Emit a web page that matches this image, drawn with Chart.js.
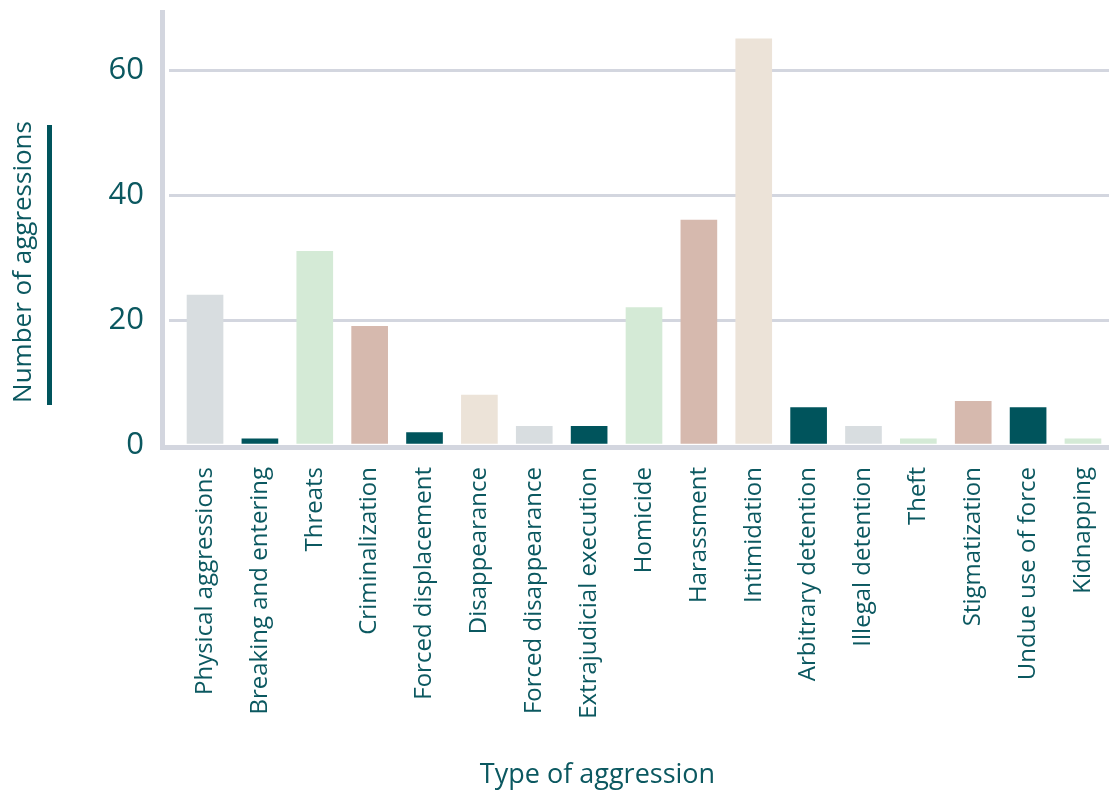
<!DOCTYPE html>
<html>
<head>
<meta charset="utf-8">
<title>Type of aggression</title>
<script src="https://cdn.jsdelivr.net/npm/chart.js@4.4.1/dist/chart.umd.min.js"></script>
<style>
  html, body { margin: 0; padding: 0; background: #ffffff; overflow: hidden; }
  canvas { display: block; }
</style>
</head>
<body>
<canvas id="chart" width="1112" height="797"></canvas>
<script>
// Aggressions recorded, by type
const categories = [
  'Physical aggressions', 'Breaking and entering', 'Threats', 'Criminalization',
  'Forced displacement', 'Disappearance', 'Forced disappearance', 'Extrajudicial execution',
  'Homicide', 'Harassment', 'Intimidation', 'Arbitrary detention', 'Illegal detention',
  'Theft', 'Stigmatization', 'Undue use of force', 'Kidnapping'
];
const aggressionCounts = [24, 1, 31, 19, 2, 8, 3, 3, 22, 36, 65, 6, 3, 1, 7, 6, 1];
const yTickValues = [0, 20, 40, 60];
const yAxisTitle = 'Number of aggressions';
const xAxisTitle = 'Type of aggression';

// Palette
const GREY = '#d8dde0';
const TEAL = '#00545c';
const GREEN = '#d4ead6';
const ROSE = '#d6b9ae';
const BEIGE = '#ece3d8';
const TEXT = '#0b5860';
const RULE = '#d3d6df';
const FONT = '"Open Sans", "Noto Sans", sans-serif';

const barColors = [
  GREY, TEAL, GREEN, ROSE, TEAL, BEIGE, GREY, TEAL, GREEN,
  ROSE, BEIGE, TEAL, GREY, GREEN, ROSE, TEAL, GREEN
];

// Keep the plot area where the layout padding puts it
function clearScalePadding(s) {
  s.paddingTop = 0;
  s.paddingBottom = 0;
  s.paddingLeft = 0;
  s.paddingRight = 0;
}

// Axis frame, y title with its accent bar, and x title
const framePlugin = {
  id: 'frame',
  beforeDatasetsDraw(chart) {
    const { ctx, chartArea } = chart;
    const y0 = chart.scales.y.getPixelForValue(0);
    ctx.save();
    ctx.fillStyle = RULE;
    ctx.fillRect(160, 10, 5, y0 + 5 - 10);
    ctx.fillRect(160, y0, chartArea.right - 160, 5);
    ctx.restore();
  },
  afterDraw(chart) {
    const ctx = chart.ctx;
    ctx.save();
    ctx.fillStyle = TEAL;
    ctx.fillRect(47, 125, 5, 280);

    ctx.fillStyle = TEXT;
    ctx.font = '26px ' + FONT;
    ctx.textAlign = 'center';
    ctx.textBaseline = 'alphabetic';
    ctx.translate(31, 262);
    ctx.rotate(-Math.PI / 2);
    ctx.fillText(yAxisTitle, 0, 0);
    ctx.restore();

    ctx.save();
    ctx.fillStyle = TEXT;
    ctx.font = '27px ' + FONT;
    ctx.textAlign = 'center';
    ctx.textBaseline = 'alphabetic';
    ctx.fillText(xAxisTitle, 597.5, 783);
    ctx.restore();
  }
};

new Chart(document.getElementById('chart'), {
  type: 'bar',
  data: {
    labels: categories,
    datasets: [{
      data: aggressionCounts,
      backgroundColor: barColors,
      borderWidth: 0,
      barThickness: 36
    }]
  },
  options: {
    responsive: false,
    animation: false,
    devicePixelRatio: 1,
    layout: { padding: { top: 7.5, right: 1.6, left: 0, bottom: 0 } },
    plugins: {
      legend: { display: false },
      tooltip: { enabled: false },
      title: { display: false }
    },
    scales: {
      x: {
        afterFit: (s) => { s.height = 352; clearScalePadding(s); },
        border: { display: false },
        grid: { display: false, drawTicks: false },
        ticks: {
          autoSkip: false,
          maxRotation: 90,
          minRotation: 90,
          padding: 22,
          color: TEXT,
          font: { family: FONT, size: 24 }
        }
      },
      y: {
        min: 0,
        max: 70,
        afterBuildTicks: (s) => { s.ticks = yTickValues.map((v) => ({ value: v })); },
        afterFit: (s) => { s.width = 177.6; clearScalePadding(s); },
        border: { display: false },
        grid: {
          color: (c) => (c.tick && c.tick.value === 0 ? 'rgba(0,0,0,0)' : RULE),
          lineWidth: 3,
          drawTicks: true,
          tickLength: 8.6
        },
        ticks: {
          padding: 25,
          color: TEXT,
          font: { family: FONT, size: 31, lineHeight: 0.4 }
        }
      }
    }
  },
  plugins: [framePlugin]
});
</script>
</body>
</html>
